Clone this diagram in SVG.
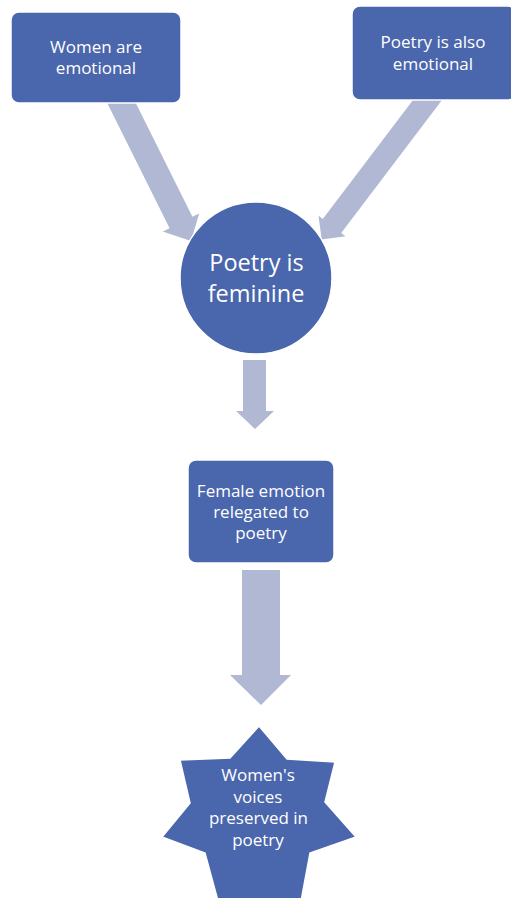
<svg xmlns="http://www.w3.org/2000/svg" width="511" height="898" viewBox="0 0 511 898">
<style>
.node{fill:#4A66AC;stroke:#FFFFFF;stroke-width:1.5}
.arrow{fill:#B0B8D3;stroke:none}
.t{font-family:"Open Sans","Liberation Sans",sans-serif;font-size:17px;fill:#FFFFFF;text-anchor:middle}
.tb{font-family:"Open Sans","Liberation Sans",sans-serif;font-size:23.5px;fill:#FFFFFF;text-anchor:middle}
</style>
<rect width="511" height="898" fill="#FFFFFF"/>
<g id="connectors">
<polygon class="arrow" points="103.6,95.7 169.6,228.2 162.8,231.6 191,241 199.2,213.4 192.4,216.8 126.4,84.3"/>
<polygon class="arrow" points="425.9,83 322.8,219 318.5,215.7 321.7,239.5 345.5,236.3 341.2,233 444.3,97"/>
<polygon class="arrow" points="243,360 266,360 266,411 274,411 255,429 236,411 243,411"/>
<polygon class="arrow" points="242,570 280,570 280,675 291,675 261,705 230,675 242,675"/>
</g>
<g id="node-women-emotional">
<rect class="node" x="11" y="12" width="170" height="91" rx="8"/>
<text class="t" x="96" y="52.5">Women are</text>
<text class="t" x="96" y="74">emotional</text>
</g>
<g id="node-poetry-emotional">
<rect class="node" x="352" y="6" width="164" height="94" rx="8"/>
<text class="t" x="433" y="48">Poetry is also</text>
<text class="t" x="433" y="69.5">emotional</text>
</g>
<g id="node-poetry-feminine">
<circle class="node" cx="256" cy="278" r="76"/>
<text class="tb" x="256.5" y="271">Poetry is</text>
<text class="tb" x="256" y="301.5">feminine</text>
</g>
<g id="node-female-emotion">
<rect class="node" x="188" y="460" width="146" height="103" rx="8"/>
<text class="t" x="261" y="497">Female emotion</text>
<text class="t" x="261" y="518">relegated to</text>
<text class="t" x="261" y="539">poetry</text>
</g>
<g id="node-womens-voices">
<polygon class="node" points="259,726 287,759 335,762 325,802 356,837 310,853 299,912 260,905 221,912 205,853 162,837 190,803 180,760 230,758"/>
<text class="t" x="258" y="781">Women's</text>
<text class="t" x="258" y="802.5">voices</text>
<text class="t" x="258.5" y="824">preserved in</text>
<text class="t" x="258" y="845.5">poetry</text>
</g>
</svg>
